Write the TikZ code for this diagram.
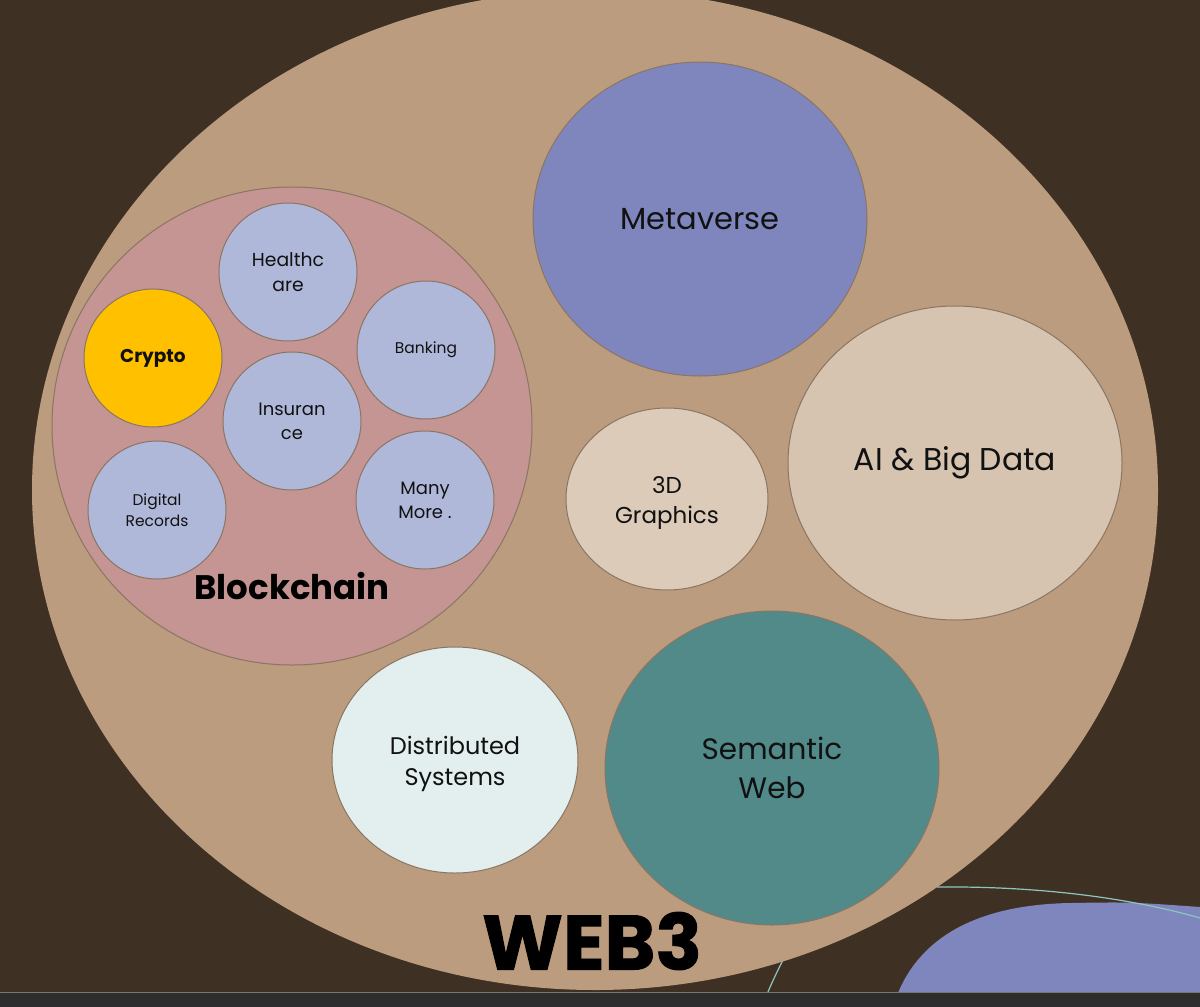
\documentclass[tikz,border=0pt]{standalone}
\usepackage{fontspec}
\setmainfont{Poppins}
\usetikzlibrary{shapes.geometric}
\definecolor{bgbrown}{HTML}{3F3024}
\definecolor{webtan}{HTML}{BB9C7E}
\definecolor{bcpink}{HTML}{C49592}
\definecolor{smallblue}{HTML}{B0B8DA}
\definecolor{cryptoyel}{HTML}{FFC000}
\definecolor{metapurple}{HTML}{7F86BD}
\definecolor{gfxbeige}{HTML}{DCCBB9}
\definecolor{aibeige}{HTML}{D6C4B0}
\definecolor{distpale}{HTML}{E3EFEE}
\definecolor{semteal}{HTML}{528A8A}
\definecolor{stripgray}{HTML}{2D2D2D}
\definecolor{stripline}{HTML}{77776A}
\definecolor{thinteal}{HTML}{8FC4C0}
\definecolor{rimcol}{HTML}{8B7563}
\definecolor{inkcol}{HTML}{111111}
\newcommand{\fsz}[1]{\fontsize{#1}{1.32\dimexpr #1pt\relax}\selectfont}
\tikzset{
  bubble/.style={ellipse, draw=rimcol, line width=1pt, inner sep=0pt, align=center, text=inkcol},
  smallbub/.style={bubble, fill=smallblue, minimum width=138pt, minimum height=138pt},
  thinline/.style={draw=thinteal, line width=1.2pt},
  inlabel/.style={text=inkcol, align=center, inner sep=0pt}
}
\begin{document}
\begin{tikzpicture}[x=1pt,y=-1pt]
\useasboundingbox (0,0) rectangle (1200,1007);
\fill[bgbrown] (0,0) rectangle (1200,1007);
% thin teal curve behind the big ellipse
\coordinate (lc) at (762,1007);
\coordinate (ld) at (800,930);
\draw[thinline] (lc) .. controls (772,980) and (785,955) .. (ld);
% big ellipse
\node[ellipse, fill=webtan, draw=none, minimum width=1126pt, minimum height=1000pt, inner sep=0pt] (web) at (595,490) {};
% purple shape bottom right
\fill[metapurple] (893,1007) .. controls (910,950) and (960,905) .. (1070,903) .. controls (1130,902) .. (1200,907) -- (1200,1007) -- cycle;
\coordinate (la) at (937,887);
\coordinate (lb) at (1200,918);
\draw[thinline] (la) .. controls (1040,886) and (1130,898) .. (lb);
% blockchain
\node[bubble, fill=bcpink, minimum width=480pt, minimum height=478pt] (bc) at (292,426) {};
\node[smallbub, font=\fsz{18.8}] (health) at (288,272) {Healthc\\are};
\node[smallbub, fill=cryptoyel, font=\fsz{18.5}\bfseries] (crypto) at (153,358) {Crypto};
\node[smallbub, font=\fsz{15.5}] (bank) at (426,350) {Banking};
\node[smallbub, font=\fsz{18}] (insur) at (292,421) {Insuran\\ce};
\node[smallbub, font=\fsz{15.5}] (digital) at (157,510) {Digital\\Records};
\node[smallbub, font=\fsz{18}] (many) at (425,500) {Many\\More .};
\node[text=black, inner sep=0pt, font=\fsz{34}\bfseries] (bclabel) at (292,586) {Blockchain};
% other bubbles
\node[bubble, fill=metapurple, minimum width=334pt, minimum height=314pt, font=\fsz{30.5}] (meta) at (700,219) {Metaverse};
\node[bubble, fill=gfxbeige, minimum width=202pt, minimum height=182pt] (gfx) at (667,499) {};
\node[inlabel, font=\fsz{23}] (gfxtext) at (667,503) {3D\\Graphics};
\node[bubble, fill=aibeige, minimum width=334pt, minimum height=314pt, font=\fsz{31.5}] (ai) at (955,463) {AI \& Big Data};
\node[bubble, fill=distpale, minimum width=246pt, minimum height=226pt] (dist) at (455,760) {};
\node[inlabel, font=\fsz{24}] (disttext) at (455,764) {Distributed\\Systems};
\node[bubble, fill=semteal, minimum width=334pt, minimum height=314pt, font=\fsz{29.5}] (sem) at (772,768) {Semantic\\Web};
\node[text=black, inner sep=0pt, font=\fsz{77}\bfseries\addfontfeatures{FakeBold=1.2}] (web3) at (592,941) {WEB3};
% bottom strip
\fill[stripgray] (0,992) rectangle (1200,1007);
\draw[stripline, line width=1pt] (0,992) -- (1200,992);
\end{tikzpicture}
\end{document}
